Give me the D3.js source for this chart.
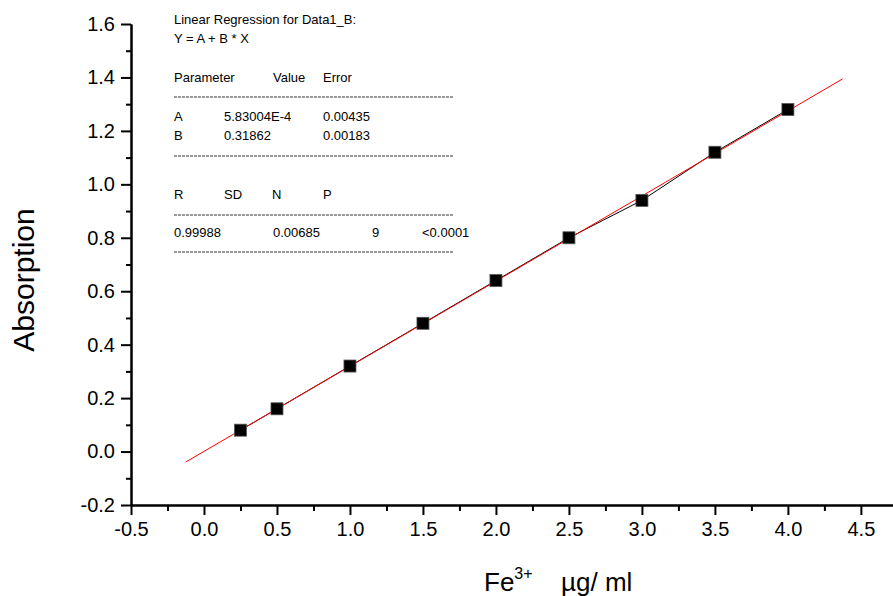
<!DOCTYPE html>
<html>
<head>
<meta charset="utf-8">
<script src="https://cdn.jsdelivr.net/npm/d3@7"></script>
<style>
  body { margin: 0; background: #fff; }
  svg { display: block; font-family: "Liberation Sans", Arial, sans-serif; }
</style>
</head>
<body>
<svg id="chart" width="893" height="596"></svg>
<script>
'use strict';

// concentration of Fe3+ (ug/ml) and measured absorption
var concentrations = [0.25, 0.5, 1.0, 1.5, 2.0, 2.5, 3.0, 3.5, 4.0];
var absorptions = [0.08, 0.16, 0.32, 0.48, 0.64, 0.80, 0.94, 1.12, 1.28];

// linear fit Y = A + B * X and the x span it is drawn over
var fitA = 5.83004e-4;
var fitB = 0.31862;
var fitSpan = [-0.125, 4.375];

var xTicks = [-0.5, 0.0, 0.5, 1.0, 1.5, 2.0, 2.5, 3.0, 3.5, 4.0, 4.5];
var yTicks = [-0.2, 0.0, 0.2, 0.4, 0.6, 0.8, 1.0, 1.2, 1.4, 1.6];

// regression report rows
var reportTitle = ["Linear Regression for Data1_B:", "Y = A + B * X"];
var paramHeader = ["Parameter", "Value", "Error"];
var paramRows = [["A", "5.83004E-4", "0.00435"], ["B", "0.31862", "0.00183"]];
var statHeader = ["R", "SD", "N", "P"];
var statRow = ["0.99988", "0.00685", "9", "<0.0001"];

var svg = d3.select("#chart");

var x = d3.scaleLinear().domain([-0.5, 4.72]).range([131, 893]);
var y = d3.scaleLinear().domain([-0.2, 1.6]).range([505, 24]);

// plain hyphen for negatives, like the original
var fmt = function (d) { return d.toFixed(1); };

function minorValues(ticks) {
    var out = [];
    for (var i = 0; i < ticks.length - 1; i++) {
        out.push((ticks[i] + ticks[i + 1]) / 2);
    }
    return out;
}

function styleAxis(g) {
    g.selectAll("path").attr("stroke", "#000").attr("stroke-width", 2);
    g.selectAll("line").attr("stroke", "#000").attr("stroke-width", 2);
    g.selectAll("text").attr("fill", "#000").attr("font-size", "20px")
        .attr("font-family", "'Liberation Sans', Arial, sans-serif");
}

// minor ticks first
svg.append("g")
    .attr("transform", "translate(0," + y(-0.2) + ")")
    .call(d3.axisBottom(x).tickValues(minorValues(xTicks))
        .tickSize(6).tickSizeOuter(0).tickFormat(""))
    .call(styleAxis);

svg.append("g")
    .attr("transform", "translate(" + x(-0.5) + ",0)")
    .call(d3.axisLeft(y).tickValues(minorValues(yTicks)).tickSize(5).tickSizeOuter(0).tickFormat(""))
    .call(styleAxis);

// major ticks
svg.append("g")
    .attr("transform", "translate(0," + y(-0.2) + ")")
    .call(d3.axisBottom(x).tickValues(xTicks).tickSize(10).tickSizeOuter(0).tickPadding(7)
        .tickFormat(fmt))
    .call(styleAxis);

svg.append("g")
    .attr("transform", "translate(" + x(-0.5) + ",0)")
    .call(d3.axisLeft(y).tickValues(yTicks).tickSize(10).tickSizeOuter(0).tickPadding(6)
        .tickFormat(fmt))
    .call(styleAxis);

// axis titles
svg.append("text")
    .attr("transform", "translate(34,280) rotate(-90)")
    .attr("text-anchor", "middle")
    .attr("font-size", "30px")
    .text("Absorption");

var xTitle = svg.append("text")
    .attr("x", 484)
    .attr("y", 591)
    .attr("font-size", "26px");
xTitle.append("tspan").text("Fe");
xTitle.append("tspan").attr("font-size", "16px").attr("dy", -12).text("3+");
xTitle.append("tspan").attr("dy", 12).attr("x", 561).text("\u00b5g/ ml");

// data line and points
var line = d3.line()
    .x(function (d) { return x(d[0]); })
    .y(function (d) { return y(d[1]); });

var points = d3.zip(concentrations, absorptions);

svg.append("path")
    .datum(points)
    .attr("d", line)
    .attr("fill", "none")
    .attr("stroke", "#000")
    .attr("stroke-width", 1);

svg.append("path")
    .datum(fitSpan.map(function (v) { return [v, fitA + fitB * v]; }))
    .attr("d", line)
    .attr("fill", "none")
    .attr("stroke", "#ff0000")
    .attr("stroke-width", 1);

svg.selectAll("rect.pt")
    .data(points)
    .enter()
    .append("rect")
    .attr("class", "pt")
    .attr("x", function (d) { return x(d[0]) - 6; })
    .attr("y", function (d) { return y(d[1]) - 6; })
    .attr("width", 12)
    .attr("height", 12)
    .attr("fill", "#000")
    .attr("stroke", "#555")
    .attr("stroke-width", 0.8);

// regression report
var report = svg.append("g").attr("font-size", "13px").attr("fill", "#000");

function addRow(cells, cols, baseline) {
    cells.forEach(function (c, i) {
        report.append("text").attr("x", cols[i]).attr("y", baseline).text(c);
    });
}

function addDashes(yPos) {
    report.append("line")
        .attr("x1", 174).attr("x2", 453)
        .attr("y1", yPos).attr("y2", yPos)
        .attr("stroke", "#333")
        .attr("stroke-width", 1)
        .attr("stroke-dasharray", "3,1");
}

addRow([reportTitle[0]], [174], 24);
addRow([reportTitle[1]], [174], 43);
addRow(paramHeader, [174, 273, 323], 82);
addDashes(97);
addRow(paramRows[0], [174, 224, 323], 121);
addRow(paramRows[1], [174, 224, 323], 140);
addDashes(156);
addRow(statHeader, [174, 224, 272, 323], 199);
addDashes(215);
addRow(statRow, [174, 273, 372, 422], 237);
addDashes(252);
</script>
</body>
</html>
